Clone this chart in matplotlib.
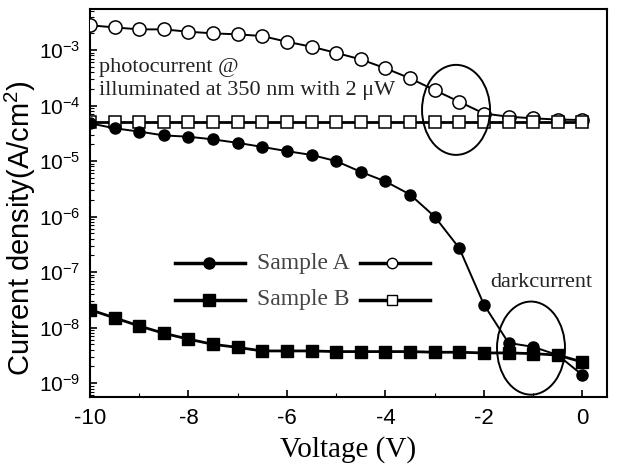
import matplotlib
matplotlib.use("Agg")
import matplotlib.pyplot as plt
from matplotlib.patches import Ellipse
from matplotlib.lines import Line2D
import numpy as np

voltage = [-10, -9.5, -9, -8.5, -8, -7.5, -7, -6.5, -6, -5.5, -5, -4.5, -4,
           -3.5, -3, -2.5, -2, -1.5, -1, -0.5, 0]
photo_A = [2.8e-3, 2.56e-3, 2.36e-3, 2.36e-3, 2.14e-3, 2.0e-3, 1.92e-3, 1.79e-3,
           1.41e-3, 1.15e-3, 8.9e-4, 6.8e-4, 4.7e-4, 3.1e-4, 1.9e-4, 1.17e-4,
           7.2e-5, 6.3e-5, 5.9e-5, 5.6e-5, 5.5e-5]
photo_B = [5.1e-5, 5.1e-5, 5.1e-5, 5.1e-5, 5.1e-5, 5.1e-5, 5.1e-5, 5.1e-5,
           5.1e-5, 5.1e-5, 5.1e-5, 5.1e-5, 5.1e-5, 5.1e-5, 5.1e-5, 5.1e-5,
           5.1e-5, 5.1e-5, 5.1e-5, 5.1e-5, 5.1e-5]
dark_A = [4.8e-5, 3.9e-5, 3.4e-5, 2.9e-5, 2.75e-5, 2.46e-5, 2.13e-5, 1.8e-5,
          1.51e-5, 1.29e-5, 1.0e-5, 6.4e-6, 4.3e-6, 2.5e-6, 1.0e-6, 2.7e-7,
          2.6e-8, 5.3e-9, 4.5e-9, 3.2e-9, 1.4e-9]
dark_B = [2.1e-8, 1.5e-8, 1.07e-8, 7.9e-9, 6.2e-9, 5.0e-9, 4.4e-9, 3.8e-9,
          3.8e-9, 3.8e-9, 3.7e-9, 3.7e-9, 3.7e-9, 3.7e-9, 3.6e-9, 3.6e-9,
          3.5e-9, 3.5e-9, 3.4e-9, 3.2e-9, 2.4e-9]

x_ticks = [-10, -8, -6, -4, -2, 0]
y_ticks = [1e-9, 1e-8, 1e-7, 1e-6, 1e-5, 1e-4, 1e-3]

fig = plt.figure(figsize=(6.17, 4.65), dpi=100)
ax = fig.add_axes([90/617, 1-397/465, 517/617, 388/465])

serif = ['Liberation Serif', 'DejaVu Serif']
sans = ['Liberation Sans', 'DejaVu Sans']

lw = 1.4
ax.plot(voltage, photo_A, '-o', color='black', lw=lw, ms=9.5, mfc='white', mew=1.1, zorder=3)
ax.plot(voltage, photo_B, '-s', color='black', lw=lw + 0.6, ms=9, mfc='white', mew=1.1, zorder=3)
ax.plot(voltage, dark_A, '-o', color='black', lw=lw, ms=8, mfc='black', zorder=4)
ax.plot(voltage, dark_B, '-s', color='black', lw=lw + 0.6, ms=8, mfc='black', zorder=4)

ax.set_yscale('log')
ax.set_xlim(-10, 0.5)
ax.set_ylim(10**-9.25, 10**-2.26)
ax.set_xticks(x_ticks)
ax.set_xticks(np.arange(-10, 1, 1), minor=True)
ax.set_xticklabels(['-10', '-8', '-6', '-4', '-2', '0'], family=sans, fontsize=16)
ax.set_yticks(y_ticks)
ax.set_yticklabels([r'$\mathregular{10^{%d}}$' % int(np.log10(v)) for v in y_ticks],
                   family=sans, fontsize=15)
ax.tick_params(axis='both', which='major', direction='in', length=5, width=1.2,
               pad=8, colors='black')
ax.tick_params(axis='y', which='major', pad=7)
ax.tick_params(axis='both', which='minor', direction='in', length=3, width=0.8)
ax.tick_params(axis='x', which='both', top=False)
ax.tick_params(axis='y', which='both', right=False)
for s in ax.spines.values():
    s.set_linewidth(1.5)

ax.set_xlabel('Voltage (V)', family=serif, fontsize=21, labelpad=5)
fig.text(20/617, 1-228/465, r'Current density(A/cm$\mathregular{^2}$)', family=sans,
         fontsize=21, rotation=90, ha='center', va='center')

# annotations
ax.text(0.017, 0.85, 'photocurrent @', transform=ax.transAxes, family=serif,
        fontsize=16, color='#222222', va='center', ha='left')
ax.text(0.017, 0.79, 'illuminated at 350 nm with 2 \u03bcW', transform=ax.transAxes,
        family=serif, fontsize=16, color='#222222', va='center', ha='left')
ax.text(0.872, 0.296, 'darkcurrent', transform=ax.transAxes, family=serif,
        fontsize=16, color='#222222', va='center', ha='center')

ax.add_patch(Ellipse((0.708, 0.740), 0.1315, 0.232, transform=ax.transAxes,
                     fill=False, ec='black', lw=1.4, zorder=5))
ax.add_patch(Ellipse((0.853, 0.126), 0.1315, 0.24, transform=ax.transAxes,
                     fill=False, ec='black', lw=1.4, zorder=5))

# legend drawn manually
rows = [(0.345, 'o', 'Sample A'), (0.25, 's', 'Sample B')]
for yy, mk, lab in rows:
    ax.add_line(Line2D([0.164, 0.30], [yy, yy], transform=ax.transAxes, color='black', lw=2.5))
    ax.add_line(Line2D([0.230], [yy], transform=ax.transAxes, marker=mk, color='black',
                       ms=8, mfc='black', mec='black', ls='none'))
    ax.text(0.323, yy, lab, transform=ax.transAxes, family=serif, fontsize=17,
            color='#444444', va='center', ha='left')
    ax.add_line(Line2D([0.522, 0.658], [yy, yy], transform=ax.transAxes, color='black', lw=2.5))
    ax.add_line(Line2D([0.584], [yy], transform=ax.transAxes, marker=mk, color='black',
                       ms=7.5, mfc='white', mec='black', mew=1.0, ls='none'))

fig.savefig('out.png', dpi=100)
